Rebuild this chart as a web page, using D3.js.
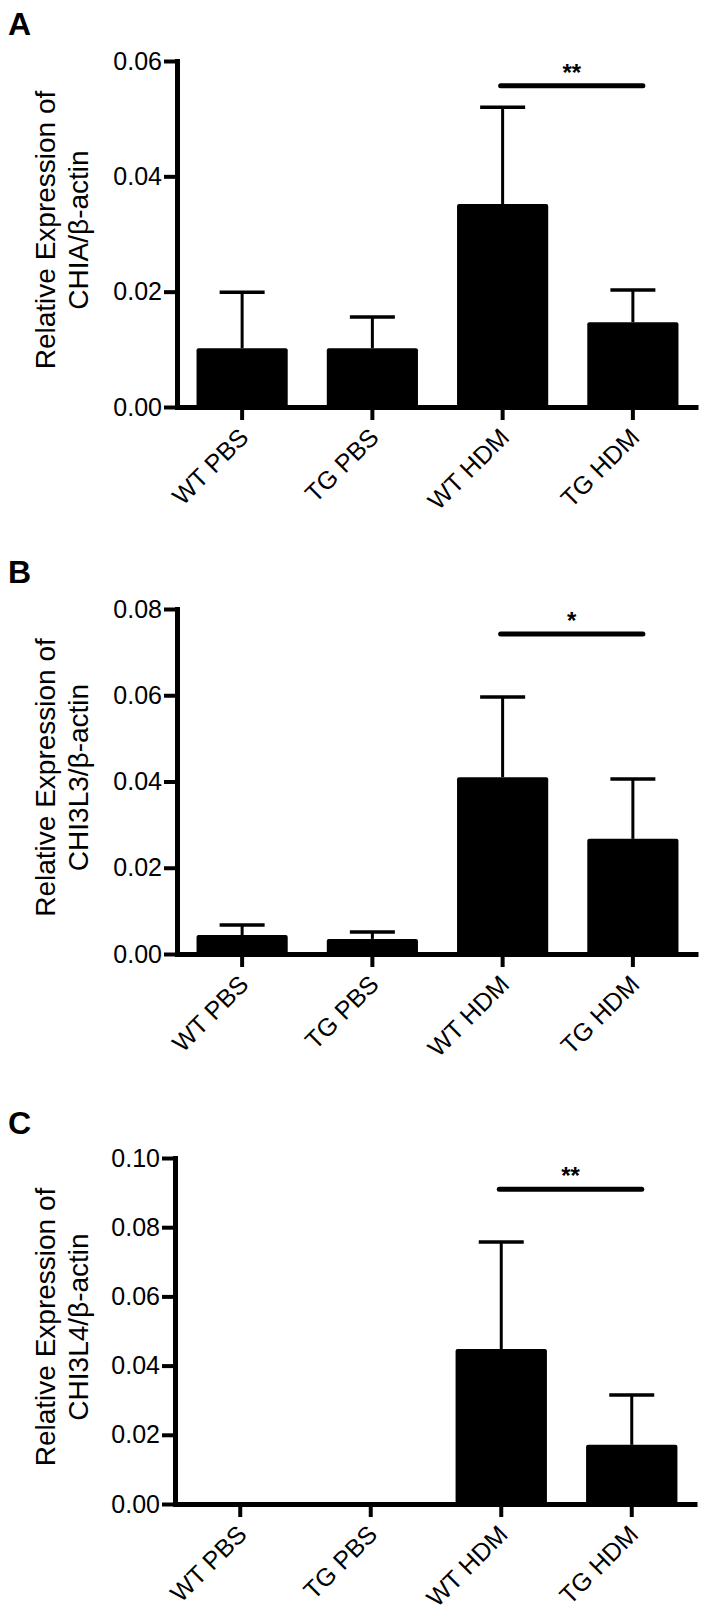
<!DOCTYPE html>
<html>
<head>
<meta charset="utf-8">
<script src="https://cdn.jsdelivr.net/npm/d3@7"></script>
<style>
    body { margin: 0; background: #fff; }
    text { font-family: "Liberation Sans", Arial, sans-serif; }
</style>
</head>
<body>
<div id="chart"></div>
<script>
// groups on the x axis
const groups = ["WT PBS", "TG PBS", "WT HDM", "TG HDM"];

// panel A - CHIA
const chiaMean = [0.0102, 0.0102, 0.0352, 0.0147];
const chiaErr = [0.0097, 0.0054, 0.0168, 0.0056];
const chiaTicks = [0, 0.02, 0.04, 0.06];

// panel B - CHI3L3
const chi3l3Mean = [0.0044, 0.0035, 0.0410, 0.0267];
const chi3l3Err = [0.0023, 0.0016, 0.0186, 0.0139];
const chi3l3Ticks = [0, 0.02, 0.04, 0.06, 0.08];

// panel C - CHI3L4
const chi3l4Mean = [0.0002, 0.0002, 0.0448, 0.0171];
const chi3l4Err = [0, 0, 0.0309, 0.0144];
const chi3l4Ticks = [0, 0.02, 0.04, 0.06, 0.08, 0.10];

// significance bar between WT HDM and TG HDM
const sigLevel = [0.0557, 0.0742, 0.091];
const sigText = ["**", "*", "**"];

const panels = [
    { letter: "A", gene: "CHIA", mean: chiaMean, err: chiaErr, ticks: chiaTicks,
      left: 177, right: 698, top: 61, bottom: 407, letterY: 35 },
    { letter: "B", gene: "CHI3L3", mean: chi3l3Mean, err: chi3l3Err, ticks: chi3l3Ticks,
      left: 177, right: 698, top: 609, bottom: 954, letterY: 583 },
    { letter: "C", gene: "CHI3L4", mean: chi3l4Mean, err: chi3l4Err, ticks: chi3l4Ticks,
      left: 175, right: 697, top: 1158, bottom: 1504, letterY: 1134 }
];

const svg = d3.select("#chart").append("svg")
    .attr("width", 706)
    .attr("height", 1615);

panels.forEach(function(p, k) {
    const g = svg.append("g");

    const x = d3.scaleBand()
        .domain(groups)
        .range([p.left, p.right])
        .paddingInner(0.3)
        .paddingOuter(0.15);

    const y = d3.scaleLinear()
        .domain([0, d3.max(p.ticks)])
        .range([p.bottom, p.top]);

    const data = groups.map(function(name, i) {
        return { name: name, mean: p.mean[i], err: p.err[i] };
    });

    // panel letter
    g.append("text")
        .attr("x", 8)
        .attr("y", p.letterY)
        .style("font-size", "32px")
        .style("font-weight", "bold")
        .text(p.letter);

    // bars
    g.selectAll(".bar")
        .data(data)
        .enter().append("rect")
        .attr("class", "bar")
        .attr("x", d => x(d.name))
        .attr("y", d => y(d.mean))
        .attr("width", x.bandwidth())
        .attr("height", d => y(0) - y(d.mean))
        .attr("rx", 2)
        .attr("fill", "#000");

    // error bars (upper only)
    const eb = g.selectAll(".err")
        .data(data.filter(d => d.err > 0))
        .enter().append("g")
        .attr("class", "err");

    eb.append("line")
        .attr("x1", d => x(d.name) + x.bandwidth() / 2)
        .attr("x2", d => x(d.name) + x.bandwidth() / 2)
        .attr("y1", d => y(d.mean))
        .attr("y2", d => y(d.mean + d.err))
        .attr("stroke", "#000")
        .attr("stroke-width", 3);

    eb.append("line")
        .attr("x1", d => x(d.name) + x.bandwidth() / 2 - 22.5)
        .attr("x2", d => x(d.name) + x.bandwidth() / 2 + 22.5)
        .attr("y1", d => y(d.mean + d.err))
        .attr("y2", d => y(d.mean + d.err))
        .attr("stroke", "#000")
        .attr("stroke-width", 3.5);

    // y axis
    const yAxis = d3.axisLeft(y)
        .tickValues(p.ticks)
        .tickFormat(d3.format(".2f"))
        .tickSizeInner(13)
        .tickSizeOuter(0)
        .tickPadding(2);

    const ya = g.append("g")
        .attr("transform", "translate(" + p.left + ",0)")
        .call(yAxis);
    ya.select(".domain").attr("stroke-width", 5).attr("stroke-linecap", "square");
    ya.selectAll(".tick line").attr("stroke-width", 4);
    ya.selectAll(".tick text")
        .style("font-size", "25px")
        .style("font-family", "'Liberation Sans', Arial, sans-serif")
        .attr("fill", "#000");

    // x axis
    const xAxis = d3.axisBottom(x)
        .tickSizeInner(13)
        .tickSizeOuter(0);

    const xa = g.append("g")
        .attr("transform", "translate(0," + p.bottom + ")")
        .call(xAxis);
    xa.select(".domain").attr("stroke-width", 5);
    xa.selectAll(".tick line").attr("stroke-width", 4);
    xa.selectAll(".tick text")
        .style("font-size", "25px")
        .style("font-family", "'Liberation Sans', Arial, sans-serif")
        .attr("fill", "#000")
        .attr("text-anchor", "end")
        .attr("dy", null)
        .attr("y", null)
        .attr("transform", "translate(8,32) rotate(-45)");

    // y axis title
    const midY = (p.top + p.bottom) / 2 - 4;
    const title = g.append("text")
        .attr("transform", "translate(55," + midY + ") rotate(-90)")
        .attr("text-anchor", "middle")
        .style("font-size", "28px");
    title.append("tspan")
        .attr("x", 0).attr("y", 0)
        .text("Relative Expression of");
    title.append("tspan")
        .attr("x", 0).attr("y", 33)
        .text(p.gene + "/\u03b2-actin");

    // significance line
    const sx1 = x("WT HDM") + x.bandwidth() / 2 - 2;
    const sx2 = x("TG HDM") + x.bandwidth() / 2 + 10;
    const sy = y(sigLevel[k]);
    g.append("line")
        .attr("x1", sx1).attr("x2", sx2)
        .attr("y1", sy).attr("y2", sy)
        .attr("stroke", "#000")
        .attr("stroke-width", 5)
        .attr("stroke-linecap", "round");
    g.append("text")
        .attr("x", (sx1 + sx2) / 2)
        .attr("y", sy - 5)
        .attr("text-anchor", "middle")
        .style("font-size", "24px")
        .style("font-weight", "bold")
        .text(sigText[k]);
});
</script>
</body>
</html>
